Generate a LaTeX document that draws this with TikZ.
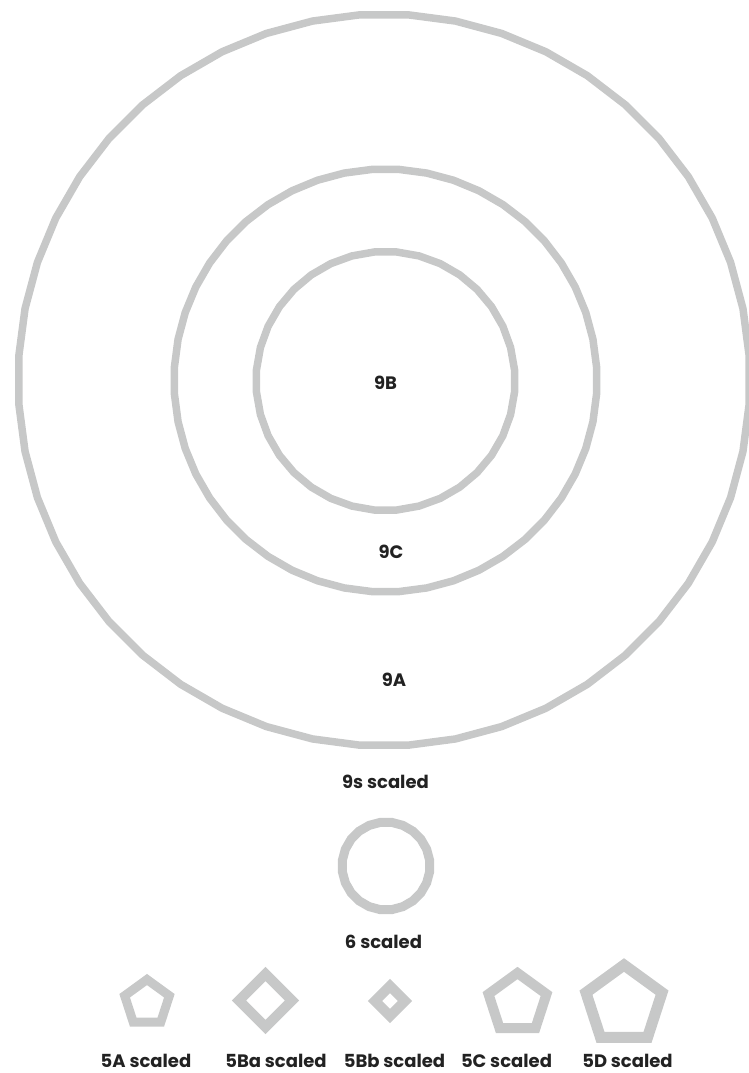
\documentclass[tikz,border=0pt]{standalone}
\usepackage{fontspec}
\setmainfont{Poppins}
\usepackage{tikz}
\usetikzlibrary{shapes.geometric, positioning}
\definecolor{ringgrey}{RGB}{199,200,200}
\definecolor{labeldark}{RGB}{34,34,34}
\tikzset{
  ring/.style={regular polygon, draw=ringgrey, inner sep=0pt, outer sep=0pt,
    line width=7.5pt},
  gem/.style={regular polygon, regular polygon sides=5, draw=ringgrey,
    inner sep=0pt, outer sep=0pt, line width=9pt},
  tag/.style={font=\fontsize{18}{20}\selectfont\bfseries, text=labeldark,
    inner sep=0pt}
}

\begin{document}
\begin{tikzpicture}[x=1pt, y=-1pt]
  \useasboundingbox (0,0) rectangle (748,1073);

  % the nines
  \node[ring, regular polygon sides=48, minimum size=732pt] (ring9A) at (384,380) {};
  \node[ring, regular polygon sides=48, minimum size=423pt] (ring9C) at (385.5,380.5) {};
  \node[ring, regular polygon sides=36, minimum size=259pt] (ring9B) at (385.5,381) {};
  \node[tag] (lab9B) at (385.5,383) {9B};
  \node[tag] (lab9C) at (391,552) {9C};
  \node[tag] (lab9A) at (394,680) {9A};
  \node[tag] (lab9s) at (385.5,782) {9s scaled};

  % the six
  \node[ring, regular polygon sides=24, minimum size=88pt, line width=9pt] (ring6) at (386,866) {};
  \node[tag] (lab6) at (383.5,942) {6 scaled};

  % the fives
  \node[gem, minimum size=47pt] (gem5A) at (147,1003) {};
  \node[gem, regular polygon sides=4, shape border rotate=45, minimum size=53pt,
    line width=10pt] (gem5Ba) at (265.5,1000.5) {};
  \node[gem, regular polygon sides=4, shape border rotate=45, minimum size=30pt,
    line width=10pt] (gem5Bb) at (390,1001) {};
  \node[gem, minimum size=61pt, line width=10pt] (gem5C) at (517.5,1003.5) {};
  \node[gem, minimum size=80pt, line width=11pt] (gem5D) at (624,1005) {};

  \node[tag] (lab5A) at (146,1061) {5A scaled};
  \node[tag] (lab5Ba) at (276,1061) {5Ba scaled};
  \node[tag] (lab5Bb) at (394.5,1061) {5Bb scaled};
  \node[tag] (lab5C) at (506.5,1061) {5C scaled};
  \node[tag] (lab5D) at (627.5,1061) {5D scaled};
\end{tikzpicture}
\end{document}
